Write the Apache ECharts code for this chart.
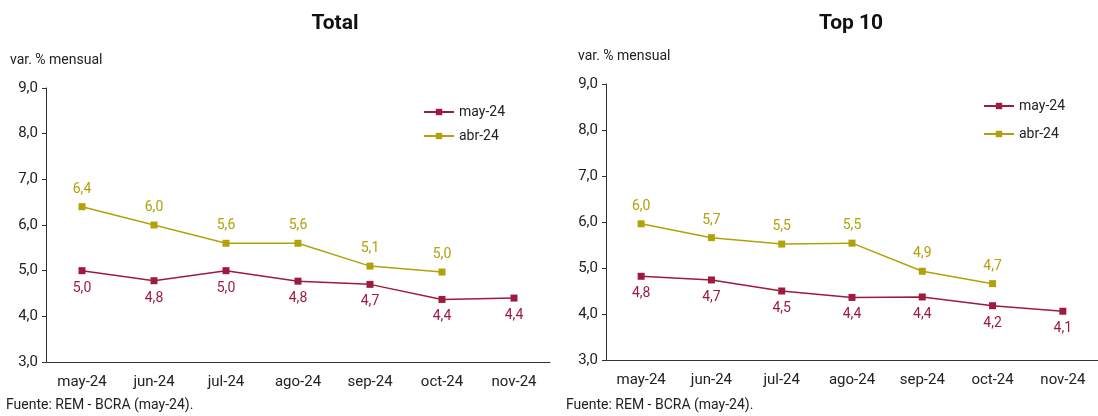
<!DOCTYPE html>
<html lang="es">
<head>
<meta charset="UTF-8">
<title>REM - BCRA</title>
<script src="https://cdn.jsdelivr.net/npm/echarts@6/dist/echarts.min.js"></script>
<style>
    html, body { margin: 0; padding: 0; background: #fff; }
    #chart { width: 1098px; height: 416px; }
</style>
</head>
<body>
<div id="chart"></div>
<script>
    var categories = ['may-24', 'jun-24', 'jul-24', 'ago-24', 'sep-24', 'oct-24', 'nov-24'];
    var yTicks = ['3,0', '4,0', '5,0', '6,0', '7,0', '8,0', '9,0'];
    var totalMay = [5.0, 4.78, 5.0, 4.77, 4.7, 4.37, 4.4];
    var totalAbr = [6.4, 6.0, 5.6, 5.6, 5.1, 4.97];
    var top10May = [4.82, 4.74, 4.5, 4.36, 4.37, 4.18, 4.06];
    var top10Abr = [5.96, 5.66, 5.52, 5.54, 4.93, 4.66];

    var RED = '#9e1b3f', OLIVE = '#b3a10a';
    var FONT = 'Roboto';

    function fmt(p) { return p.value.toFixed(1).replace('.', ','); }

    function series(name, data, color, pos, idx) {
        return {
            name: name, type: 'line', data: data,
            xAxisIndex: idx, yAxisIndex: idx,
            symbol: 'rect', symbolSize: 7,
            lineStyle: { color: color, width: 1.5 },
            itemStyle: { color: color },
            label: { show: true, position: pos, distance: 7, color: color, fontSize: 14, fontFamily: FONT, formatter: fmt },
            animation: false
        };
    }

    function xAxis(idx) {
        return {
            type: 'category', gridIndex: idx, data: categories, boundaryGap: true,
            axisLine: { lineStyle: { color: '#333' } },
            axisTick: { show: false },
            axisLabel: { color: '#222', fontSize: 15, fontFamily: FONT, margin: 13 }
        };
    }

    function yAxis(idx) {
        return {
            type: 'value', gridIndex: idx, min: 3, max: 9, interval: 1,
            splitLine: { show: false },
            axisLine: { show: true, lineStyle: { color: '#333' } },
            axisTick: { show: true, length: 4, lineStyle: { color: '#333' } },
            axisLabel: { color: '#222', fontSize: 15, fontFamily: FONT, formatter: function (v) { return yTicks[v - 3]; } }
        };
    }

    var chart = echarts.init(document.getElementById('chart'));
    chart.setOption({
        animation: false,
        title: [
            { text: 'Total', left: 330, top: 8, textAlign: 'center', textStyle: { fontSize: 21, fontWeight: 'bold', fontFamily: FONT, color: '#111' } },
            { text: 'Top 10', left: 846, top: 8, textAlign: 'center', textStyle: { fontSize: 21, fontWeight: 'bold', fontFamily: FONT, color: '#111' } }
        ],
        graphic: [
            { type: 'text', left: 10, top: 53, style: { text: 'var. % mensual', fontSize: 14, fontFamily: FONT, fill: '#222' } },
            { type: 'text', left: 578, top: 49, style: { text: 'var. % mensual', fontSize: 14, fontFamily: FONT, fill: '#222' } },
            { type: 'text', left: 6, top: 398, style: { text: 'Fuente: REM - BCRA (may-24).', fontSize: 14, fontFamily: FONT, fill: '#222' } },
            { type: 'text', left: 566, top: 398, style: { text: 'Fuente: REM - BCRA (may-24).', fontSize: 14, fontFamily: FONT, fill: '#222' } }
        ],
        legend: [
            { data: ['may-24', 'abr-24'], orient: 'vertical', left: 418, top: 100, itemGap: 10, itemWidth: 30, itemHeight: 8,
              textStyle: { fontSize: 14, fontFamily: FONT, color: '#222' } },
            { data: ['may-24', 'abr-24'], orient: 'vertical', left: 978, top: 94, itemGap: 14, itemWidth: 30, itemHeight: 8,
              textStyle: { fontSize: 14, fontFamily: FONT, color: '#222' } }
        ],
        grid: [
            { left: 46, top: 88, width: 504, height: 274 },
            { left: 606, top: 84, width: 508, height: 276 }
        ],
        xAxis: [xAxis(0), xAxis(1)],
        yAxis: [yAxis(0), yAxis(1)],
        series: [
            series('may-24', totalMay, RED, 'bottom', 0),
            series('abr-24', totalAbr, OLIVE, 'top', 0),
            series('may-24', top10May, RED, 'bottom', 1),
            series('abr-24', top10Abr, OLIVE, 'top', 1)
        ]
    });
</script>
</body>
</html>
